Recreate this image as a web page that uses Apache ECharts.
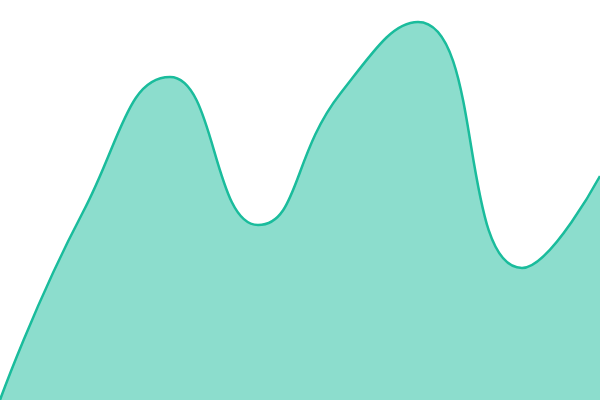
<!DOCTYPE html>
<html>
<head>
<meta charset="utf-8">
<script src="https://cdn.jsdelivr.net/npm/echarts@6/dist/echarts.min.js"></script>
<style>
  html, body { margin: 0; padding: 0; background: #fff; }
  #chart { width: 600px; height: 400px; }
</style>
</head>
<body>
<div id="chart"></div>
<script>
// x positions of the points (axis 0..600, hidden)
let xs = [0, 83, 170, 258, 340, 418, 522, 600];
// series values (axis 0..400, hidden)
let values = [0, 188, 323, 175, 306, 378, 132, 224];

let lineColor = '#1abc9c';

function initLineData(xs, ys) {
    let result = [];
    for (let i = 0; i < xs.length; i++) {
        result.push([xs[i], ys[i]]);
    }
    return result;
}

let option = {
    animation: false,
    grid: { left: 0, right: 0, top: 0, bottom: 0 },
    xAxis: {
        type: 'value',
        min: 0,
        max: 600,
        show: false
    },
    yAxis: {
        type: 'value',
        min: 0,
        max: 400,
        show: false
    },
    series: [{
        type: 'line',
        smooth: true,
        symbol: 'none',
        data: initLineData(xs, values),
        lineStyle: { color: lineColor, width: 2.5 },
        areaStyle: { color: lineColor, opacity: 0.5 }
    }]
};
echarts.init(document.getElementById('chart')).setOption(option);
</script>
</body>
</html>
